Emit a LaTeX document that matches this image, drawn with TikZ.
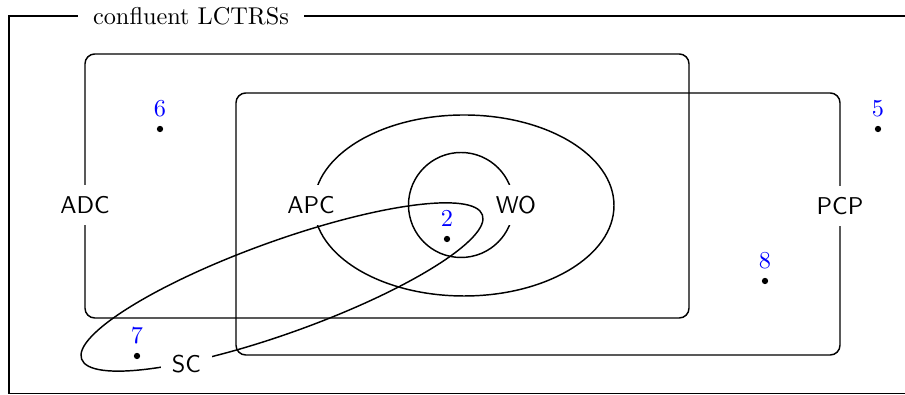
\documentclass[tikz,border=0pt]{standalone}
\usetikzlibrary{shapes.geometric}
\begin{document}
\begin{tikzpicture}[x=0.4115pt,y=-0.4115pt,
  lbl/.style={fill=white, font=\sffamily, inner sep=4.6pt},
  dot/.style={circle, fill=black, inner sep=0pt, minimum size=2.6pt},
  numlbl/.style={text=blue},
  region/.style={draw, line width=0.6pt}]
\useasboundingbox (0,0) rectangle (905,395);
\clip (0,0) rectangle (905,395);
% outer frame
\draw[region] (930,16) -- (9,16) -- (9,393.5) -- (930,393.5);
\node[fill=white, inner sep=6pt] (title) at (191,16) {confluent LCTRSs};
% regions
\draw[region, rounded corners] (85,54) rectangle (689,318);
\draw[region, rounded corners] (236,93) rectangle (840,355);
\draw[region] (464,205.5) ellipse [x radius=150, y radius=90.5];
\draw[region] (461,205) circle [radius=52.5];
% labels
\node[lbl] (adc) at (85,205) {ADC};
\node[lbl] (apc) at (311,205) {APC};
\node[lbl] (wo) at (516,205) {WO};
\node[lbl] (pcp) at (840,206) {PCP};
% SC region
\draw[region, shift={(282,287)}, rotate=19.8] (0,0) ellipse [x radius=213, y radius=46];
\node[lbl] (sc) at (186.5,364) {SC};
% points
\node[dot, label={[numlbl]above:6}] (p6) at (160,129) {};
\node[dot, label={[numlbl]above:5}] (p5) at (878,129) {};
\node[dot, label={[numlbl]above:2}] (p2) at (447,239) {};
\node[dot, label={[numlbl]above:8}] (p8) at (765,281) {};
\node[dot, label={[numlbl]above:7}] (p7) at (137,356) {};
\end{tikzpicture}
\end{document}
